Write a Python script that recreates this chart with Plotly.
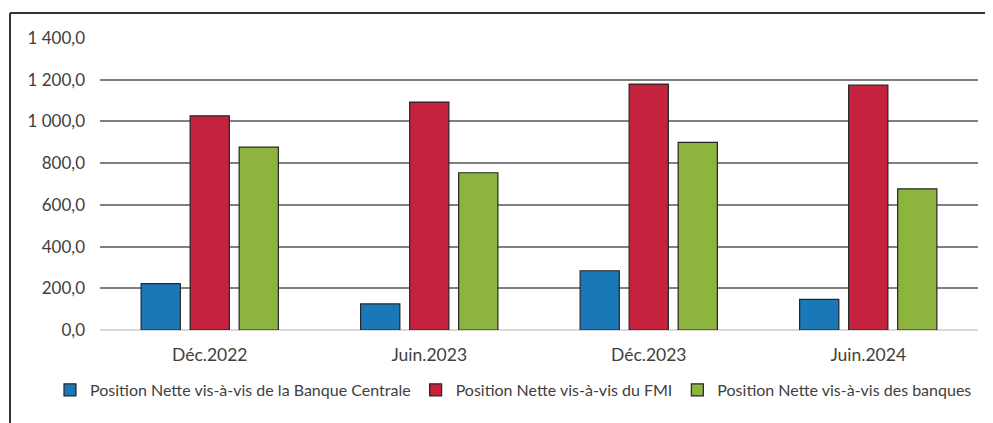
import plotly.graph_objects as go

categories = ["Déc.2022", "Juin.2023", "Déc.2023", "Juin.2024"]
banque_centrale = [222, 125, 284, 147]
fmi = [1027, 1093, 1179, 1174]
banques = [877, 754, 900, 677]

series_names = [
    "Position Nette vis-à-vis de la Banque Centrale",
    "Position Nette vis-à-vis du FMI",
    "Position Nette vis-à-vis des banques",
]
colors = ["#1a78b8", "#c5223e", "#8db43e"]

fig = go.Figure()
for name, vals, col in zip(series_names, [banque_centrale, fmi, banques], colors):
    fig.add_trace(go.Bar(
        x=categories, y=vals, name=name,
        marker=dict(color=col, line=dict(color="#262626", width=1.2)),
    ))

# page has an 8px body margin; screen coords = figure coords + 8
OFF = 8
W, H = 993 - OFF, 423 - OFF
ml, mr, mt, mb = 100 - OFF, 15, 38 - OFF, 93
pw, ph = W - ml - mr, H - mt - mb

def px_x(p):  # p in screen pixels
    return (p - OFF - ml) / pw

def px_y(p):
    return (H - mb - (p - OFF)) / ph

fig.update_layout(
    width=W, height=H,
    margin=dict(l=ml, r=mr, t=mt, b=mb),
    paper_bgcolor="white", plot_bgcolor="white",
    barmode="group", bargap=0.33, bargroupgap=0.2,
    separators=", ",
    font=dict(family="Lato, Open Sans, sans-serif", color="#404040", size=17),
    showlegend=True,
    legend=dict(orientation="h", x=px_x(50), xanchor="left", y=px_y(390), yanchor="middle",
                font=dict(size=16, color="#404040"), itemwidth=30, tracegroupgap=0,
                traceorder="normal"),
    xaxis=dict(showgrid=False, showline=False, ticks="", tickfont=dict(size=17.5),
               ticklabelstandoff=12),
    yaxis=dict(range=[0, 1400], dtick=200, tickformat=",.1f", showgrid=True,
               gridcolor="#808080", gridwidth=1.5, zeroline=True, zerolinecolor="#d9d9d9",
               zerolinewidth=1.5, showline=False, ticks="", ticklabelstandoff=14,
               tickfont=dict(size=17)),
    shapes=[
        dict(type="line", xref="paper", yref="paper", x0=px_x(10), x1=px_x(1000),
             y0=px_y(13), y1=px_y(13), line=dict(color="#333333", width=2)),
        dict(type="line", xref="paper", yref="paper", x0=px_x(10), x1=px_x(10),
             y0=px_y(13), y1=px_y(430), line=dict(color="#333333", width=2)),
    ],
)

fig.write_html("out.html")
